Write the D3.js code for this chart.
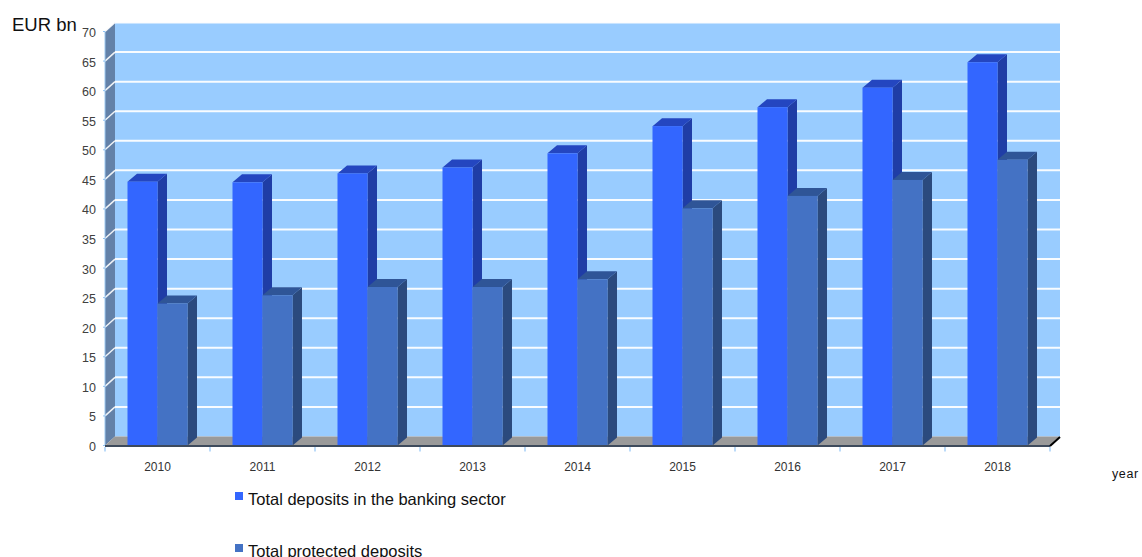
<!DOCTYPE html>
<html>
<head>
<meta charset="utf-8">
<script src="https://cdn.jsdelivr.net/npm/d3@7"></script>
<style>
  html, body { margin: 0; padding: 0; background: #fff; }
  svg { display: block; font-family: "Liberation Sans", Arial, sans-serif; }
</style>
</head>
<body>
<svg id="chart" width="1142" height="557"></svg>
<script>
const years = ["2010","2011","2012","2013","2014","2015","2016","2017","2018"];
const totalDeposits = [44.6, 44.5, 46.0, 47.0, 49.4, 54.0, 57.2, 60.5, 64.8];
const protectedDeposits = [24.0, 25.4, 26.8, 26.8, 28.1, 40.1, 42.2, 44.9, 48.3];
const yTicks = [0,5,10,15,20,25,30,35,40,45,50,55,60,65,70];
const seriesNames = ["Total deposits in the banking sector", "Total protected deposits"];

const svg = d3.select("#chart");
const X0 = 105, X1 = 1050, DX = 10, DY = 9;
const x = d3.scaleBand().domain(years).range([X0, X1]).padding(0);
const y = d3.scaleLinear().domain([0, 70]).range([445.5, 31.5]);

const g = svg.append("g");

// back wall
g.append("rect")
  .attr("x", X0 + DX).attr("y", y(70) - DY)
  .attr("width", X1 - X0).attr("height", y(0) - y(70))
  .attr("fill", "#99CCFF");

// back gridlines
g.selectAll(".bgrid").data(yTicks.filter(v => v > 0)).join("line")
  .attr("x1", X0 + DX).attr("x2", X1 + DX)
  .attr("y1", d => y(d) - DY).attr("y2", d => y(d) - DY)
  .attr("stroke", "#ffffff").attr("stroke-width", 2).attr("opacity", 0.95);

// left wall
g.append("path")
  .attr("d", `M${X0},${y(0)} L${X0},${y(70)} L${X0+DX},${y(70)-DY} L${X0+DX},${y(0)-DY} Z`)
  .attr("fill", "#6381A8");
g.selectAll(".lgrid").data(yTicks.filter(v => v > 0)).join("line")
  .attr("x1", X0).attr("x2", X0 + DX)
  .attr("y1", d => y(d)).attr("y2", d => y(d) - DY)
  .attr("stroke", "#ffffff").attr("stroke-width", 1.5).attr("opacity", 0.9);
g.append("line").attr("x1", X0).attr("x2", X0).attr("y1", y(0)).attr("y2", y(70))
  .attr("stroke", "#9cc8f0").attr("stroke-width", 1);

// floor
g.append("path")
  .attr("d", `M${X0},${y(0)} L${X1},${y(0)} L${X1+DX},${y(0)-DY} L${X0+DX},${y(0)-DY} Z`)
  .attr("fill", "#9a9a9a");

// bars
const BW = 30, BOFF = 22.5, BDX = 9.5, BDY = 8;
const series = [
  { vals: totalDeposits, front: "#3366FF", top: "#2446C0", side: "#1F3DA6", off: 0 },
  { vals: protectedDeposits, front: "#4472C4", top: "#2F5597", side: "#2B4A7E", off: BW }
];
years.forEach((yr, i) => {
  series.forEach(s => {
    const bx = x(yr) + BOFF + s.off;
    const top = y(s.vals[i]);
    const bot = y(0);
    const bg = g.append("g");
    bg.append("path")
      .attr("d", `M${bx+BW},${bot} L${bx+BW},${top} L${bx+BW+BDX},${top-BDY} L${bx+BW+BDX},${bot-BDY} Z`)
      .attr("fill", s.side);
    bg.append("path")
      .attr("d", `M${bx},${top} L${bx+BDX},${top-BDY} L${bx+BW+BDX},${top-BDY} L${bx+BW},${top} Z`)
      .attr("fill", s.top);
    bg.append("rect")
      .attr("x", bx).attr("y", top).attr("width", BW).attr("height", bot - top)
      .attr("fill", s.front);
  });
});

// floor front edge & axis
g.append("line").attr("x1", X0).attr("x2", X1).attr("y1", y(0)+0.5).attr("y2", y(0)+0.5)
  .attr("stroke", "#3d4a5c").attr("stroke-width", 2);
g.append("line").attr("x1", X1).attr("x2", X1 + DX).attr("y1", y(0)+0.5).attr("y2", y(0) - DY + 0.5)
  .attr("stroke", "#000").attr("stroke-width", 2);

// x ticks
const tickXs = years.map(d => x(d)).concat([X1]);
g.selectAll(".xt").data(tickXs).join("line")
  .attr("x1", d => d).attr("x2", d => d)
  .attr("y1", y(0) + 1.5).attr("y2", y(0) + 6)
  .attr("stroke", "#8fc3f5").attr("stroke-width", 1.2);

// x labels
g.selectAll(".xl").data(years).join("text")
  .attr("x", d => x(d) + x.bandwidth() / 2)
  .attr("y", 470.5)
  .attr("text-anchor", "middle")
  .attr("font-size", 12).attr("fill", "#333")
  .text(d => d);

// y labels
g.selectAll(".yl").data(yTicks).join("text")
  .attr("x", 96)
  .attr("y", d => y(d) + 5.5)
  .attr("text-anchor", "end")
  .attr("font-size", 12.5).attr("fill", "#404040")
  .text(d => d);

g.selectAll(".yt").data(yTicks).join("line")
  .attr("x1", X0 - 2).attr("x2", X0)
  .attr("y1", d => y(d)).attr("y2", d => y(d))
  .attr("stroke", "#8fc3f5").attr("stroke-width", 1);

// axis titles
svg.append("text").attr("x", 12).attr("y", 31)
  .attr("font-size", 18.5).attr("fill", "#111").text("EUR bn");
svg.append("text").attr("x", 1112).attr("y", 478)
  .attr("font-size", 12.5).attr("letter-spacing", 0.6).attr("fill", "#111").text("year");

// legend
const legend = svg.append("g");
seriesNames.forEach((name, i) => {
  const ly = 492 + i * 52;
  legend.append("rect").attr("x", 235).attr("y", ly).attr("width", 8).attr("height", 8)
    .attr("fill", series[i].front);
  legend.append("text").attr("x", 248).attr("y", ly + 13)
    .attr("font-size", 16.5).attr("fill", "#111").text(name);
});
</script>
</body>
</html>
